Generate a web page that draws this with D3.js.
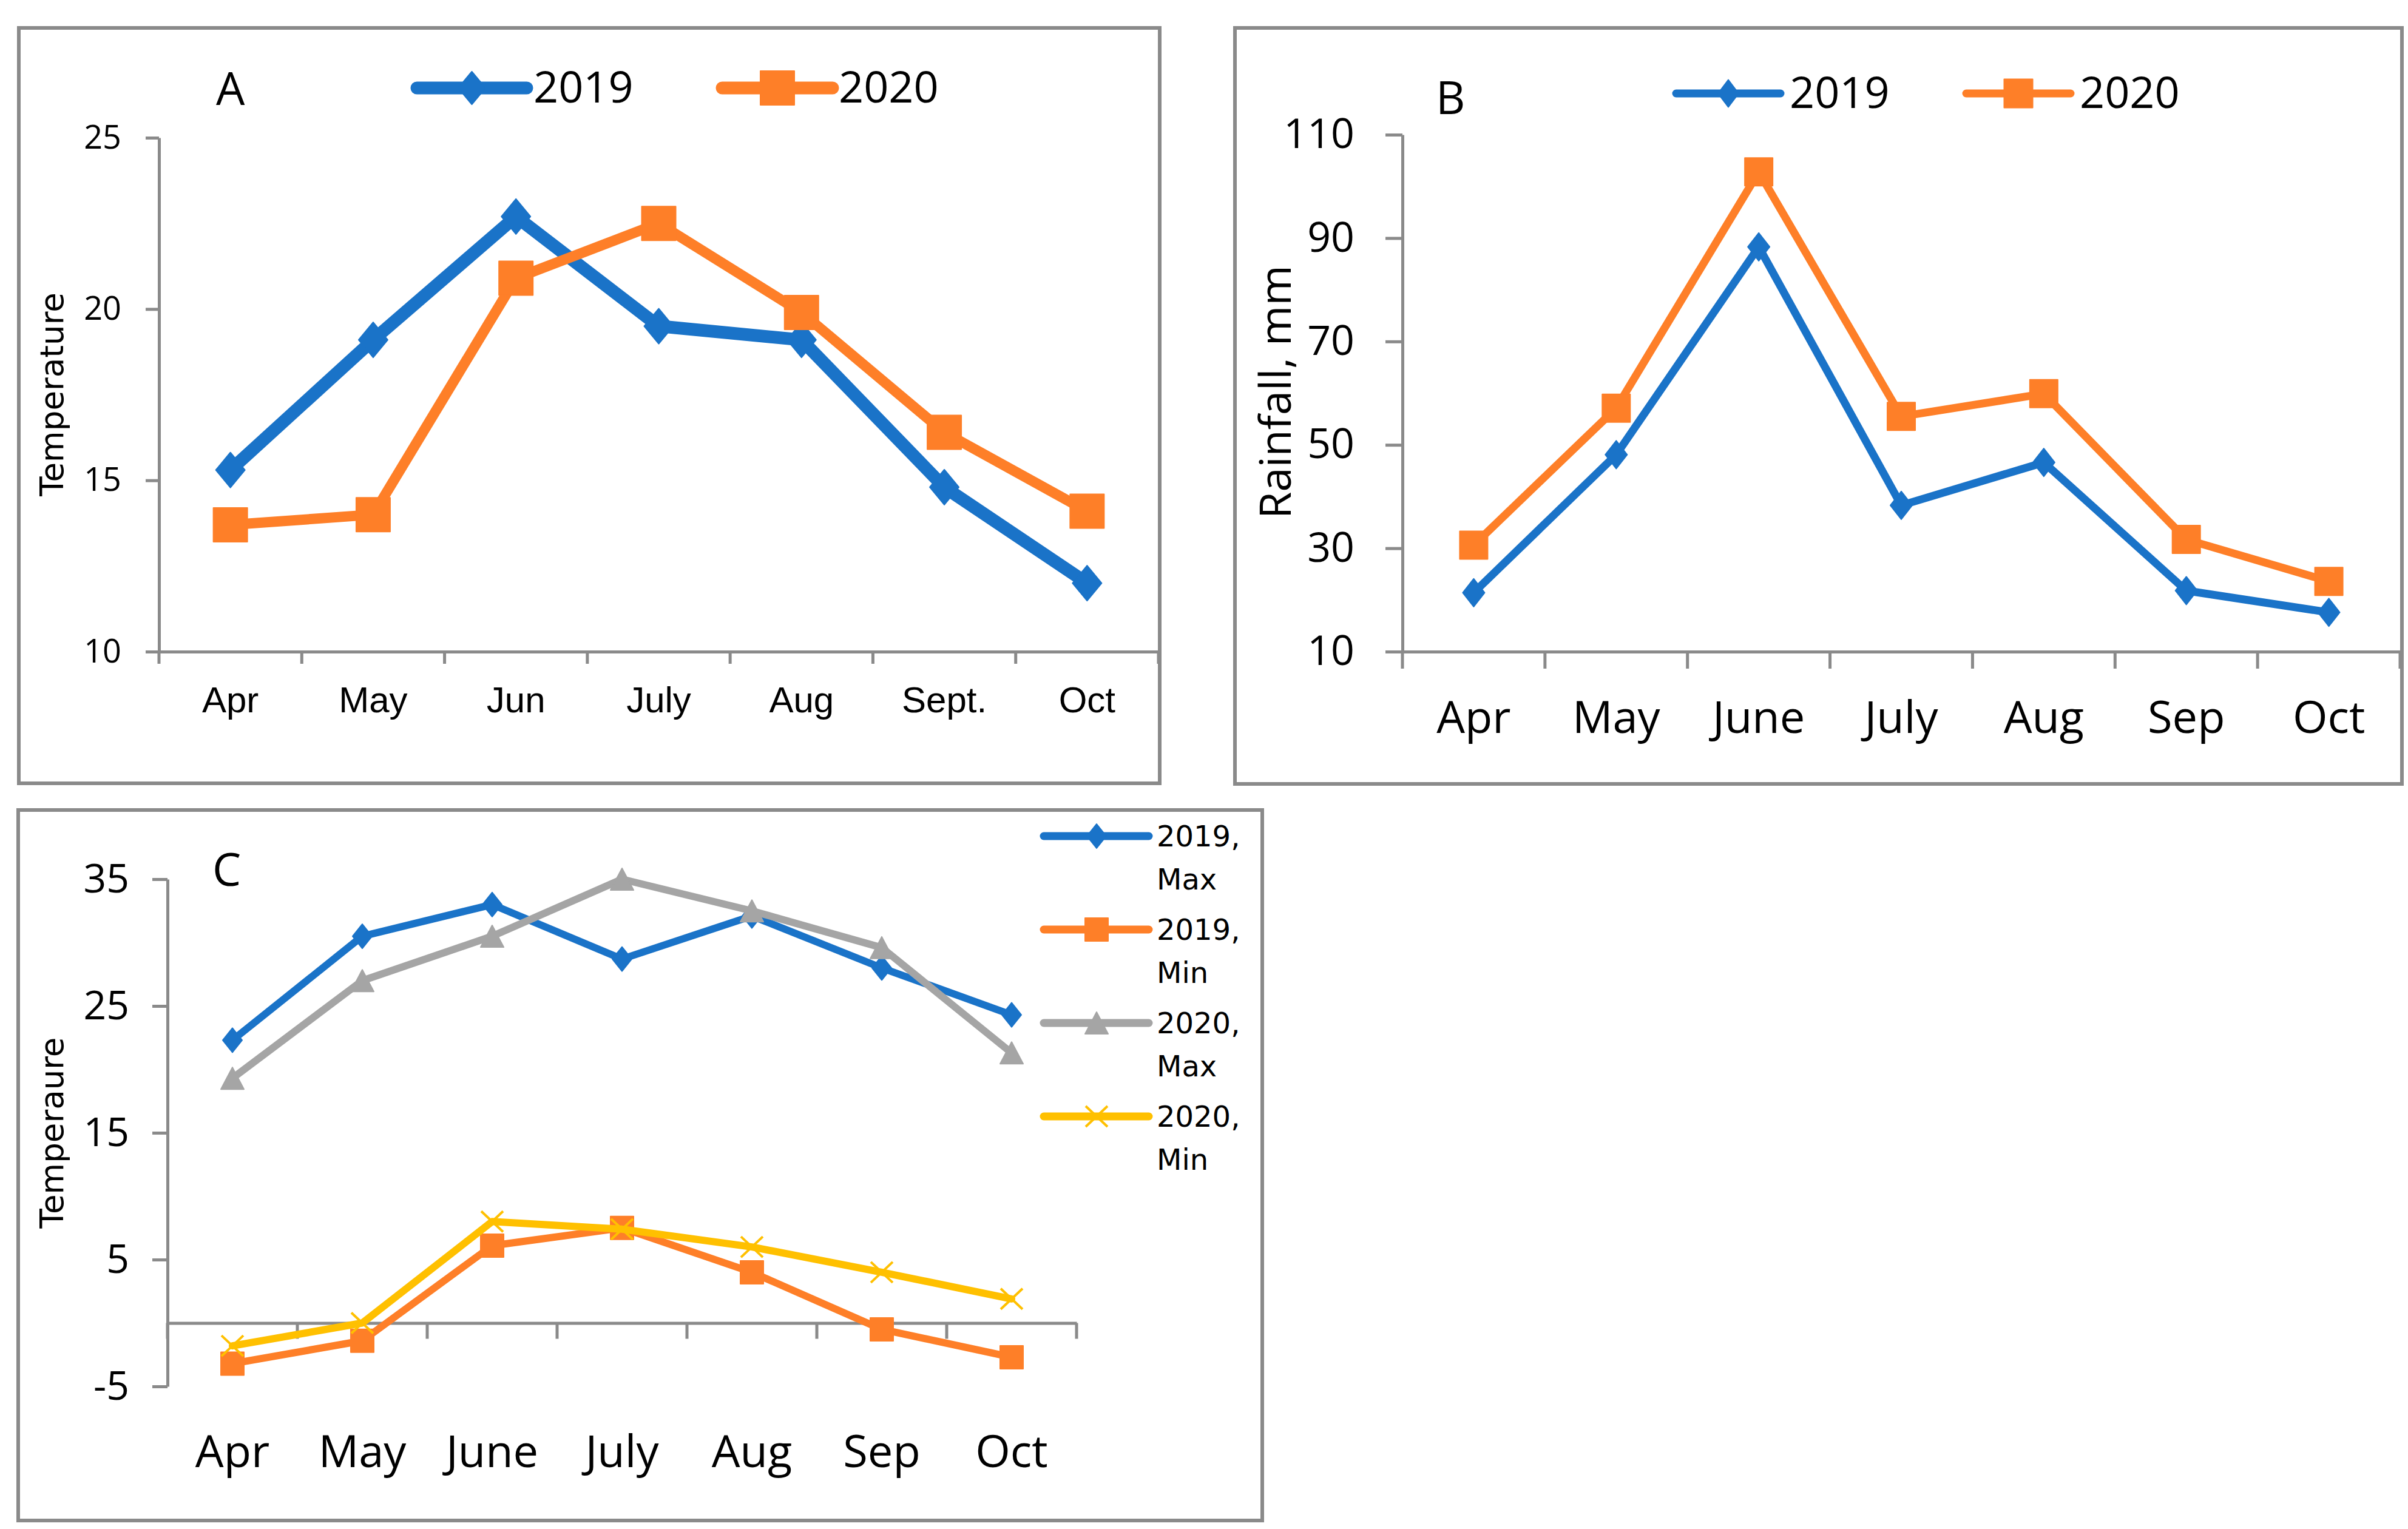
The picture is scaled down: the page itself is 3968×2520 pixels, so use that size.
<!DOCTYPE html>
<html>
<head>
<meta charset="utf-8">
<script src="https://cdn.jsdelivr.net/npm/d3@7"></script>
<style>
  html, body { margin: 0; padding: 0; background: #ffffff; }
  svg { display: block; }
</style>
</head>
<body>
<svg id="chart" width="3968" height="2520"></svg>
<script>
// ---------------- DATA ----------------
const monthsA = ["Apr", "May", "Jun", "July", "Aug", "Sept.", "Oct"];
const tempA2019 = [15.3, 19.1, 22.7, 19.5, 19.1, 14.8, 12.0];
const tempA2020 = [13.7, 14.0, 20.9, 22.5, 19.9, 16.4, 14.1];
const ticksA = [10, 15, 20, 25];

const monthsB = ["Apr", "May", "June", "July", "Aug", "Sep", "Oct"];
const rain2019 = [21.4, 48.1, 88.3, 38.3, 46.6, 21.8, 17.6];
const rain2020 = [30.6, 57.1, 102.8, 55.5, 59.9, 31.7, 23.6];
const ticksB = [10, 30, 50, 70, 90, 110];

const monthsC = ["Apr", "May", "June", "July", "Aug", "Sep", "Oct"];
const max2019 = [22.3, 30.5, 33.0, 28.7, 32.1, 28.0, 24.3];
const min2019 = [-3.2, -1.4, 6.1, 7.5, 4.0, -0.5, -2.7];
const max2020 = [19.3, 27.0, 30.5, 35.0, 32.5, 29.6, 21.3];
const min2020 = [-1.8, 0.0, 8.0, 7.4, 6.0, 4.0, 1.9];
const ticksC = [-5, 5, 15, 25, 35];

const seriesNamesA = ["2019", "2020"];
const seriesNamesC = [["2019,", "Max"], ["2019,", "Min"], ["2020,", "Max"], ["2020,", "Min"]];

// ---------------- STYLE ----------------
const BLUE = "#1a73c8", ORANGE = "#fe7f28", GRAY = "#a5a5a5", YELLOW = "#ffc000";
const AXIS = "#8a8a8a";
const svg = d3.select("#chart");

function markerPath(type, w, h) {
  const a = w / 2, b = h / 2;
  if (type === "diamond") return `M0,${-b}L${a},0L0,${b}L${-a},0Z`;
  if (type === "square") return `M${-a},${-b}H${a}V${b}H${-a}Z`;
  if (type === "triangle") return `M0,${-b}L${a},${b}H${-a}Z`;
  if (type === "x") return `M${-a},${-b}L${a},${b}M${a},${-b}L${-a},${b}`;
  return "";
}

function drawMarker(g, type, w, h, color, x, y) {
  const p = g.append("path").attr("d", markerPath(type, w, h))
    .attr("transform", `translate(${x},${y})`);
  if (type === "x") {
    p.attr("fill", "none").attr("stroke", color).attr("stroke-width", 4);
  } else {
    p.attr("fill", color).attr("stroke", color).attr("stroke-width", 2).attr("stroke-linejoin", "round");
  }
}

function frame(x0, y0, x1, y1) {
  svg.append("rect").attr("x", x0).attr("y", y0).attr("width", x1 - x0).attr("height", y1 - y0)
    .attr("fill", "#fff").attr("stroke", AXIS).attr("stroke-width", 6);
}

function panel(cfg) {
  const g = svg.append("g");
  const x = d3.scaleBand().domain(cfg.months).range([cfg.left, cfg.right]);
  const y = d3.scaleLinear().domain(cfg.yDomain).range([cfg.bottom, cfg.top]);
  const cx = d => x(d) + x.bandwidth() / 2;

  // y axis
  const ya = g.append("g").attr("transform", `translate(${cfg.left},0)`)
    .call(d3.axisLeft(y).tickValues(cfg.ticks).tickSize(cfg.yTickLen).tickSizeOuter(0)
      .tickPadding(cfg.yTickPad).tickFormat(d => String(d)));
  ya.select(".domain").attr("stroke", AXIS).attr("stroke-width", 5);
  ya.selectAll(".tick line").attr("stroke", AXIS).attr("stroke-width", 5);
  ya.selectAll(".tick text").attr("font-family", cfg.tickFont).attr("font-size", cfg.yTickSize)
    .attr("fill", "#000");

  // x axis line at baseline value
  const axisY = y(cfg.xAxisAt);
  const xa = g.append("g").attr("transform", `translate(0,${axisY})`)
    .call(d3.axisBottom(x).tickSize(0).tickFormat(""));
  xa.select(".domain").attr("stroke", AXIS).attr("stroke-width", 5);
  const bounds = cfg.months.map(m => x(m)).concat([x.range()[1]]);
  g.selectAll(".xtick").data(bounds).join("line")
    .attr("x1", d => d).attr("x2", d => d)
    .attr("y1", axisY).attr("y2", axisY + cfg.xTickLen)
    .attr("stroke", AXIS).attr("stroke-width", 5);
  g.selectAll(".xlab").data(cfg.months).join("text")
    .attr("x", d => cx(d)).attr("y", cfg.xLabelBaseline)
    .attr("text-anchor", "middle").attr("font-family", cfg.xFont)
    .attr("font-size", cfg.xLabelSize).attr("fill", "#000").text(d => d);

  // y label
  g.append("text").attr("transform", `translate(${cfg.yLabelX},${cfg.yLabelY}) rotate(-90)`)
    .attr("text-anchor", "middle").attr("font-family", cfg.yLabelFont)
    .attr("font-size", cfg.yLabelSize).attr("fill", "#000").text(cfg.yLabel);

  // series
  const line = d3.line().x((d, i) => cx(cfg.months[i])).y(d => y(d));
  cfg.series.forEach(s => {
    g.append("path").datum(s.values).attr("d", line)
      .attr("fill", "none").attr("stroke", s.color).attr("stroke-width", s.width)
      .attr("stroke-linejoin", "round").attr("stroke-linecap", "round");
    s.values.forEach((v, i) => drawMarker(g, s.marker, s.mw, s.mh, s.color, cx(cfg.months[i]), y(v)));
  });

  // title letter
  g.append("text").attr("x", cfg.titleX).attr("y", cfg.titleY).attr("font-family", "'Open Sans', sans-serif")
    .attr("font-size", 75).attr("fill", "#000").text(cfg.title);
  return g;
}

// ---------------- PANEL A ----------------
frame(31, 46, 1911, 1291);
const gA = panel({
  months: monthsA, left: 262, right: 1909, top: 227, bottom: 1074,
  yDomain: [10, 25], ticks: ticksA, xAxisAt: 10,
  yTickLen: 22, yTickPad: 40, yTickSize: 54, tickFont: "'Open Sans', sans-serif",
  xTickLen: 20, xLabelBaseline: 1174, xLabelSize: 60, xFont: "'Liberation Sans', Arial, sans-serif",
  yLabel: "Temperature", yLabelX: 104, yLabelY: 650, yLabelFont: "'DejaVu Sans', sans-serif", yLabelSize: 53,
  title: "A", titleX: 356, titleY: 173,
  series: [
    { values: tempA2019, color: BLUE, width: 21, marker: "diamond", mw: 48, mh: 58 },
    { values: tempA2020, color: ORANGE, width: 17, marker: "square", mw: 56, mh: 56 }
  ]
});
// legend A
[
  { name: seriesNamesA[0], color: BLUE, marker: "diamond", mw: 45, mh: 54, x0: 687, x1: 868, tx: 879 },
  { name: seriesNamesA[1], color: ORANGE, marker: "square", mw: 56, mh: 56, x0: 1190, x1: 1372, tx: 1382 }
].forEach(L => {
  gA.append("line").attr("x1", L.x0).attr("x2", L.x1).attr("y1", 145).attr("y2", 145)
    .attr("stroke", L.color).attr("stroke-width", 21).attr("stroke-linecap", "round");
  drawMarker(gA, L.marker, L.mw, L.mh, L.color, (L.x0 + L.x1) / 2, 145);
  gA.append("text").attr("x", L.tx).attr("y", 169).attr("font-family", "'Open Sans', sans-serif")
    .attr("font-size", 72).attr("fill", "#000").text(L.name);
});

// ---------------- PANEL B ----------------
frame(2035, 46, 3958, 1292);
const gB = panel({
  months: monthsB, left: 2311, right: 3955, top: 222, bottom: 1074,
  yDomain: [10, 110], ticks: ticksB, xAxisAt: 10,
  yTickLen: 28, yTickPad: 51, yTickSize: 68, tickFont: "'Open Sans', sans-serif",
  xTickLen: 28, xLabelBaseline: 1208, xLabelSize: 74, xFont: "'Open Sans', sans-serif",
  yLabel: "Rainfall, mm", yLabelX: 2127, yLabelY: 646, yLabelFont: "'Open Sans', sans-serif", yLabelSize: 72,
  title: "B", titleX: 2366, titleY: 188,
  series: [
    { values: rain2019, color: BLUE, width: 13, marker: "diamond", mw: 36, mh: 46 },
    { values: rain2020, color: ORANGE, width: 13, marker: "square", mw: 46, mh: 46 }
  ]
});
[
  { name: seriesNamesA[0], color: BLUE, marker: "diamond", mw: 34, mh: 45, x0: 2762, x1: 2934, tx: 2949 },
  { name: seriesNamesA[1], color: ORANGE, marker: "square", mw: 47, mh: 47, x0: 3240, x1: 3412, tx: 3427 }
].forEach(L => {
  gB.append("line").attr("x1", L.x0).attr("x2", L.x1).attr("y1", 154).attr("y2", 154)
    .attr("stroke", L.color).attr("stroke-width", 13).attr("stroke-linecap", "round");
  drawMarker(gB, L.marker, L.mw, L.mh, L.color, (L.x0 + L.x1) / 2, 154);
  gB.append("text").attr("x", L.tx).attr("y", 178).attr("font-family", "'Open Sans', sans-serif")
    .attr("font-size", 72).attr("fill", "#000").text(L.name);
});

// ---------------- PANEL C ----------------
frame(30, 1335, 2080, 2506);
const seriesC = [
  { values: max2019, color: BLUE, width: 12, marker: "diamond", mw: 32, mh: 40 },
  { values: min2019, color: ORANGE, width: 12, marker: "square", mw: 38, mh: 38 },
  { values: max2020, color: GRAY, width: 12, marker: "triangle", mw: 38, mh: 36 },
  { values: min2020, color: YELLOW, width: 12, marker: "x", mw: 36, mh: 34 }
];
const gC = panel({
  months: monthsC, left: 276, right: 1774, top: 1449, bottom: 2285,
  yDomain: [-5, 35], ticks: ticksC, xAxisAt: 0,
  yTickLen: 25, yTickPad: 38, yTickSize: 66, tickFont: "'Open Sans', sans-serif",
  xTickLen: 26, xLabelBaseline: 2418, xLabelSize: 74, xFont: "'Open Sans', sans-serif",
  yLabel: "Temperaure", yLabelX: 104, yLabelY: 1867, yLabelFont: "'DejaVu Sans', sans-serif", yLabelSize: 53,
  title: "C", titleX: 350, titleY: 1460,
  series: seriesC
});
const legYs = [1378, 1532, 1686, 1840];
seriesC.forEach((s, i) => {
  const ly = legYs[i];
  gC.append("line").attr("x1", 1720).attr("x2", 1893).attr("y1", ly).attr("y2", ly)
    .attr("stroke", s.color).attr("stroke-width", 13).attr("stroke-linecap", "round");
  drawMarker(gC, s.marker, s.mw, s.mh, s.color, 1807, ly);
  const t = gC.append("text").attr("font-family", "'DejaVu Sans', sans-serif")
    .attr("font-size", 48).attr("fill", "#000");
  t.append("tspan").attr("x", 1906).attr("y", ly + 17).text(seriesNamesC[i][0]);
  t.append("tspan").attr("x", 1906).attr("y", ly + 88).text(seriesNamesC[i][1]);
});
</script>
</body>
</html>
